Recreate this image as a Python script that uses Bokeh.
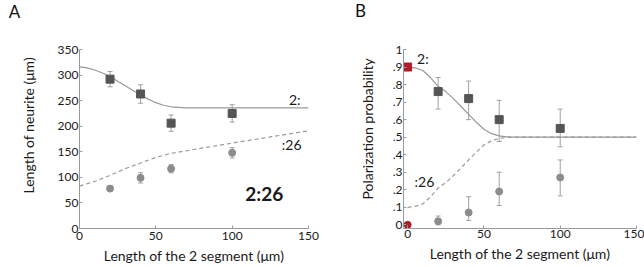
import math
from bokeh.plotting import figure
from bokeh.layouts import row, column
from bokeh.models import ColumnDataSource, Whisker, TeeHead, FixedTicker, Range1d, Title
from bokeh.core.properties import value
from bokeh.embed import file_html
from bokeh.resources import INLINE

FONT = "Lato"

# ---------------- Panel letters ----------------
panel_names = ["A", "B"]
panel_name_x = [14, 360]      # horizontal pixel positions in the title strip
panel_name_y = [11, 10]

# ---------------- Panel A data ----------------
a_x = [20, 40, 60, 100]
a_sq_y = [292, 263, 206, 225]
a_sq_err = [15, 18, 16, 17]
a_ci_y = [78, 99, 117, 148]
a_ci_err = [5, 10, 8, 10]

a_fit_x = [0, 5, 10, 15, 20, 25, 30, 35, 40, 45, 50, 55, 60, 65, 70, 80, 100, 150]
a_fit_solid = [316, 314, 310, 304, 297, 288, 279, 270, 261, 253, 246, 241, 238, 237, 236, 236, 236, 236]
a_fit_dash_x = [0, 10, 20, 30, 40, 50, 60, 80, 100, 125, 150]
a_fit_dash = [83, 92, 104, 117, 128, 139, 147, 157, 167, 179, 191]

a_xticks = [0, 50, 100, 150]
a_yticks = [0, 50, 100, 150, 200, 250, 300, 350]

# ---------------- Panel B data ----------------
b_x = [20, 40, 60, 100]
b_sq_y = [0.76, 0.72, 0.60, 0.55]
b_sq_lo = [0.66, 0.60, 0.475, 0.445]
b_sq_hi = [0.84, 0.82, 0.71, 0.66]
b_ci_y = [0.02, 0.07, 0.19, 0.27]
b_ci_lo = [0.0, 0.025, 0.11, 0.165]
b_ci_hi = [0.05, 0.16, 0.30, 0.37]
b_red_sq = (0, 0.9)
b_red_ci = (0, 0.0)

b_fit_x = [0, 5, 10, 15, 20, 25, 30, 35, 40, 45, 50, 55, 60, 65, 70, 80, 100, 150]
b_fit_solid = [0.90, 0.895, 0.88, 0.84, 0.79, 0.76, 0.72, 0.675, 0.63, 0.585, 0.545, 0.52, 0.507, 0.502, 0.50, 0.50, 0.50, 0.50]
b_fit_dash = [0.10, 0.105, 0.12, 0.16, 0.21, 0.24, 0.28, 0.325, 0.37, 0.415, 0.455, 0.48, 0.493, 0.498, 0.50, 0.50, 0.50, 0.50]

b_xticks = [0, 50, 100, 150]
b_yticks = [0, 0.1, 0.2, 0.3, 0.4, 0.5, 0.6, 0.7, 0.8, 0.9, 1.0]
b_ylabels = ["0", ".1", ".2", ".3", ".4", ".5", ".6", ".7", ".8", ".9", "1"]

SQ = "#555555"
CI = "#8c8c8c"
ERR = "#a0a0a0"
FIT = "#9a9a9a"
RED = "#b01c28"
AXIS = "#9a9a9a"
TXT = "#1a1a1a"

STRIP_H = 30


def style(p):
    p.xgrid.visible = False
    p.ygrid.visible = False
    p.outline_line_color = None
    p.background_fill_color = "white"
    p.border_fill_color = "white"
    for ax in (p.xaxis, p.yaxis):
        ax.axis_line_color = AXIS
        ax.axis_line_width = 1
        ax.major_tick_line_color = AXIS
        ax.major_tick_in = 3
        ax.major_tick_out = 0
        ax.minor_tick_line_color = None
        ax.major_label_text_font = FONT
        ax.major_label_text_font_size = "12px"
        ax.major_label_text_color = TXT
        ax.axis_label_text_font = FONT
        ax.axis_label_text_font_size = "14px"
        ax.axis_label_text_font_style = "normal"
        ax.axis_label_text_color = TXT
    p.yaxis.major_label_standoff = 2


def text_in(p, x, y, s, size, bold=False):
    p.text([x], [y], text=[s], text_font=value(FONT), text_font_size=size,
           text_align="center", text_baseline="middle", text_color=TXT,
           text_font_style="bold" if bold else "normal")


def y_title(p, s, offset, standoff):
    p.add_layout(Title(text=s, align="left", offset=offset, standoff=standoff,
                       text_font=FONT, text_font_size="14px", text_font_style="normal",
                       text_color=TXT), "left")


# ---------------- Title strip with panel letters ----------------
strip = figure(width=644, height=STRIP_H, output_backend="svg", toolbar_location=None,
               x_range=Range1d(0, 644), y_range=Range1d(STRIP_H, 0),
               x_axis_location=None, y_axis_location=None,
               min_border_left=0, min_border_right=0, min_border_top=0, min_border_bottom=0)
strip.xgrid.visible = False
strip.ygrid.visible = False
strip.outline_line_color = None
strip.text(panel_name_x, panel_name_y, text=panel_names, text_font=value(FONT),
           text_font_size="17px", text_align="center", text_baseline="middle",
           text_color="#111111")

# ---------------- Figure A ----------------
pA = figure(width=330, height=267 - STRIP_H, output_backend="svg", toolbar_location=None,
            x_range=Range1d(0, 150), y_range=Range1d(0, 350),
            min_border_left=79, min_border_right=22, min_border_top=46 - STRIP_H,
            min_border_bottom=39)
style(pA)
pA.xaxis.ticker = FixedTicker(ticks=a_xticks)
pA.yaxis.ticker = FixedTicker(ticks=a_yticks)
pA.xaxis.axis_label = "Length of the 2 segment (μm)"
pA.xaxis.major_label_standoff = 3
pA.xaxis.axis_label_standoff = 4
pA.yaxis.major_label_standoff = 1
y_title(pA, "Length of neurite (μm)", 35, 35)

pA.line(a_fit_x, a_fit_solid, line_color=FIT, line_width=1.2)
pA.line(a_fit_dash_x, a_fit_dash, line_color=FIT, line_width=1.2, line_dash="4 3")

srcA_sq = ColumnDataSource(dict(x=a_x, y=a_sq_y,
                                lo=[v - e for v, e in zip(a_sq_y, a_sq_err)],
                                hi=[v + e for v, e in zip(a_sq_y, a_sq_err)]))
srcA_ci = ColumnDataSource(dict(x=a_x, y=a_ci_y,
                                lo=[v - e for v, e in zip(a_ci_y, a_ci_err)],
                                hi=[v + e for v, e in zip(a_ci_y, a_ci_err)]))
for src in (srcA_sq, srcA_ci):
    pA.add_layout(Whisker(source=src, base="x", lower="lo", upper="hi", dimension="height",
                          line_color=ERR, line_width=1,
                          lower_head=TeeHead(size=5, line_color=ERR),
                          upper_head=TeeHead(size=5, line_color=ERR)))
pA.scatter("x", "y", source=srcA_sq, marker="square", size=8, fill_color=SQ, line_color=SQ)
pA.scatter("x", "y", source=srcA_ci, marker="circle", size=7, fill_color=CI, line_color=CI)

text_in(pA, 141, 252, "2:", "14px")
text_in(pA, 139, 165, ":26", "14px")
text_in(pA, 121, 68, "2:26", "19px", bold=True)

# ---------------- Figure B ----------------
pB = figure(width=314, height=267 - STRIP_H, output_backend="svg", toolbar_location=None,
            x_range=Range1d(-2.7, 150), y_range=Range1d(-0.021, 1.0),
            min_border_left=73, min_border_right=8, min_border_top=49 - STRIP_H,
            min_border_bottom=35)
style(pB)
pB.xaxis.ticker = FixedTicker(ticks=b_xticks)
pB.yaxis.ticker = FixedTicker(ticks=b_yticks)
pB.yaxis.major_label_overrides = {t: l for t, l in zip(b_yticks, b_ylabels)}
pB.yaxis.major_label_standoff = 1
pB.xaxis.axis_label = "Length of the 2 segment (μm)"
pB.xaxis.major_label_standoff = 1
pB.xaxis.axis_label_standoff = 4
y_title(pB, "Polarization probability", 29, 27)

pB.line(b_fit_x, b_fit_solid, line_color=FIT, line_width=1.2)
pB.line(b_fit_x, b_fit_dash, line_color=FIT, line_width=1.2, line_dash="4 3")

srcB_sq = ColumnDataSource(dict(x=b_x, y=b_sq_y, lo=b_sq_lo, hi=b_sq_hi))
srcB_ci = ColumnDataSource(dict(x=b_x, y=b_ci_y, lo=b_ci_lo, hi=b_ci_hi))
for src in (srcB_sq, srcB_ci):
    pB.add_layout(Whisker(source=src, base="x", lower="lo", upper="hi", dimension="height",
                          line_color=ERR, line_width=1,
                          lower_head=TeeHead(size=5, line_color=ERR),
                          upper_head=TeeHead(size=5, line_color=ERR)))
pB.scatter("x", "y", source=srcB_sq, marker="square", size=8, fill_color=SQ, line_color=SQ)
pB.scatter("x", "y", source=srcB_ci, marker="circle", size=7, fill_color=CI, line_color=CI)
pB.scatter([b_red_sq[0]], [b_red_sq[1]], marker="square", size=8, fill_color=RED, line_color=RED)
pB.scatter([b_red_ci[0]], [b_red_ci[1]], marker="circle", size=7, fill_color=RED, line_color=RED)

text_in(pB, 10, 0.95, "2:", "14px")
text_in(pB, 11, 0.245, ":26", "14px")

layout = column(strip, row(pA, pB))
open("out.html", "w").write(file_html(layout, INLINE))
